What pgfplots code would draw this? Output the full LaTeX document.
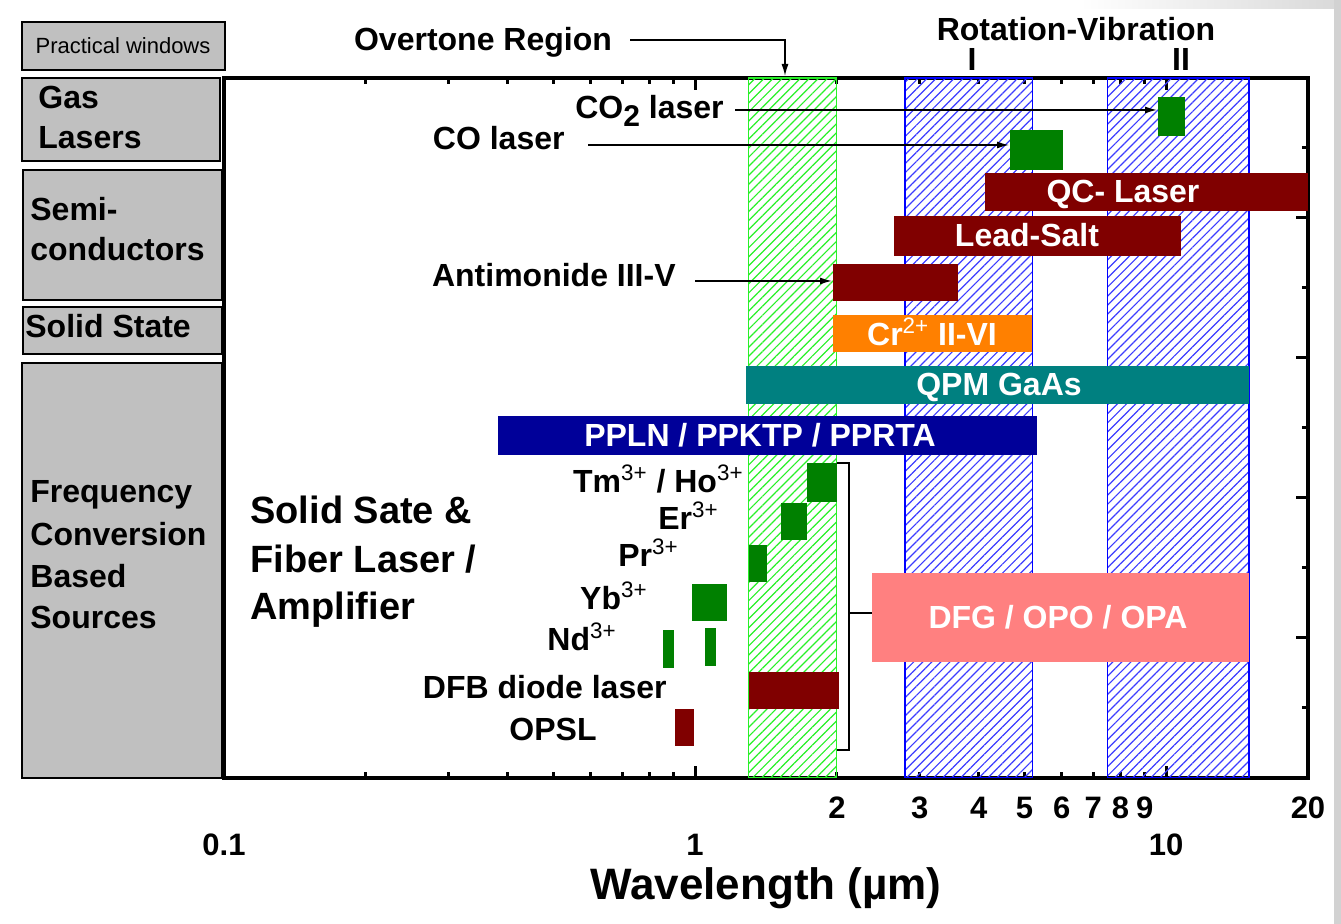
\documentclass[border=0pt]{standalone}
\usepackage{fontspec}
\setmainfont{Liberation Sans}
\usepackage{pgfplots}
\pgfplotsset{compat=1.18}
\usetikzlibrary{patterns.meta,arrows.meta}
\definecolor{dgreen}{RGB}{0,128,0}
\definecolor{dred}{RGB}{128,0,0}
\definecolor{orng}{RGB}{255,128,0}
\definecolor{tealc}{RGB}{0,128,128}
\definecolor{navyc}{RGB}{0,0,153}
\definecolor{pinkc}{RGB}{255,128,128}
\definecolor{boxgray}{RGB}{192,192,192}
\definecolor{hgreen}{RGB}{40,240,40}
\definecolor{hblue}{RGB}{60,60,255}
\newcommand{\fz}[1]{\fontsize{#1}{#1}\selectfont}
\newcommand{\ion}[1]{\textsuperscript{\mdseries #1}}
\begin{document}
\begin{tikzpicture}
\useasboundingbox (-112pt,-73pt) rectangle (558.5pt,389pt);
\begin{axis}[
  at={(0,0)}, anchor=south west,
  scale only axis, width=542pt, height=350pt,
  xmode=log, xmin=0.1, xmax=20, ymin=0, ymax=10,
  axis line style={line width=1.8pt},
  tick style={line width=1.5pt, black},
  major tick length=3pt, minor tick length=3pt,
  xtick={2,3,4,5,6,7,8,9,20},
  xticklabels={2,3,4,5,6,7,8,9,20},
  minor xtick={0.2,0.3,0.4,0.5,0.6,0.7,0.8,0.9},
  extra x ticks={0.1,1,10},
  extra x tick labels={0.1,1,10},
  extra x tick style={major tick length=6pt, xticklabel style={yshift=-18.5pt}},
  xticklabel style={anchor=center, yshift=-15pt, font=\fz{15.5}\bfseries},
  ytick={1,3,5,7,9}, yticklabels={},
  extra y ticks={2,4,6,8}, extra y tick labels={},
  extra y tick style={major tick length=6pt},
  ytick pos=right,
  /pgf/number format/assume math mode=true,
  xlabel={Wavelength (µm)},
  xlabel style={at={(axis description cs:0.5,0)}, anchor=center, yshift=-55pt, font=\fz{22}\bfseries},
]
% spectral windows (hatched)
\addplot[draw=hgreen, line width=0.6pt, pattern={Lines[angle=45,distance=3.2pt,line width=0.6pt]}, pattern color=hgreen]
  coordinates {(1.30,0) (2.00,0) (2.00,10) (1.30,10)} -- cycle;
\addplot[draw=blue, line width=0.8pt, pattern={Lines[angle=45,distance=3.2pt,line width=0.6pt]}, pattern color=hblue]
  coordinates {(2.79,0) (5.20,0) (5.20,10) (2.79,10)} -- cycle;
\addplot[draw=blue, line width=0.8pt, pattern={Lines[angle=45,distance=3.2pt,line width=0.6pt]}, pattern color=hblue]
  coordinates {(7.50,0) (15.0,0) (15.0,10) (7.50,10)} -- cycle;
% gas lasers
\addplot[fill=dgreen, draw=none] coordinates {(9.62,9.17) (10.97,9.17) (10.97,9.73) (9.62,9.73)} -- cycle; % CO2
\addplot[fill=dgreen, draw=none] coordinates {(4.67,8.69) (6.04,8.69) (6.04,9.26) (4.67,9.26)} -- cycle; % CO
% semiconductors
\addplot[fill=dred, draw=none] coordinates {(4.13,8.10) (20,8.10) (20,8.64) (4.13,8.64)} -- cycle; % QC
\addplot[fill=dred, draw=none] coordinates {(2.65,7.46) (10.76,7.46) (10.76,8.03) (2.65,8.03)} -- cycle; % Lead-salt
\addplot[fill=dred, draw=none] coordinates {(1.96,6.81) (3.62,6.81) (3.62,7.34) (1.96,7.34)} -- cycle; % Antimonide
% solid state
\addplot[fill=orng, draw=none] coordinates {(1.96,6.09) (5.20,6.09) (5.20,6.61) (1.96,6.61)} -- cycle; % Cr II-VI
% frequency conversion
\addplot[fill=tealc, draw=none] coordinates {(1.28,5.34) (15.0,5.34) (15.0,5.89) (1.28,5.89)} -- cycle; % QPM GaAs
\addplot[fill=navyc, draw=none] coordinates {(0.382,4.61) (5.32,4.61) (5.32,5.17) (0.382,5.17)} -- cycle; % PPLN
\addplot[fill=dgreen, draw=none] coordinates {(1.73,3.94) (2.00,3.94) (2.00,4.50) (1.73,4.50)} -- cycle; % Tm/Ho
\addplot[fill=dgreen, draw=none] coordinates {(1.52,3.40) (1.73,3.40) (1.73,3.93) (1.52,3.93)} -- cycle; % Er
\addplot[fill=dgreen, draw=none] coordinates {(1.30,2.80) (1.42,2.80) (1.42,3.33) (1.30,3.33)} -- cycle; % Pr
\addplot[fill=dgreen, draw=none] coordinates {(0.985,2.24) (1.17,2.24) (1.17,2.77) (0.985,2.77)} -- cycle; % Yb
\addplot[fill=dgreen, draw=none] coordinates {(0.855,1.57) (0.90,1.57) (0.90,2.11) (0.855,2.11)} -- cycle; % Nd
\addplot[fill=dgreen, draw=none] coordinates {(1.05,1.60) (1.108,1.60) (1.108,2.14) (1.05,2.14)} -- cycle; % Nd
\addplot[fill=dred, draw=none] coordinates {(1.30,0.99) (2.02,0.99) (2.02,1.51) (1.30,1.51)} -- cycle; % DFB
\addplot[fill=dred, draw=none] coordinates {(0.907,0.46) (0.995,0.46) (0.995,0.99) (0.907,0.99)} -- cycle; % OPSL
\addplot[fill=pinkc, draw=none] coordinates {(2.38,1.66) (15.0,1.66) (15.0,2.93) (2.38,2.93)} -- cycle; % DFG/OPO/OPA
\end{axis}
% annotations, in picture pixels
\begin{scope}[x=0.5pt, y=-0.5pt, shift={(-112pt,389pt)}, every node/.style={inner sep=0pt, font=\fz{16}\bfseries}]
  \shade[left color=white, right color=gray!30] (1080,0) rectangle (1341,9);
  \fill[gray!35] (1334,0) rectangle (1341,924);
  % category boxes
  \draw[fill=boxgray, line width=1pt] (22,22) rectangle (225,70);
  \node[font=\fz{11}] at (123,46) {Practical windows};
  \draw[fill=boxgray, line width=1pt] (22,78) rectangle (220,161);
  \node[anchor=base west] at (38,109) {Gas};
  \node[anchor=base west] at (38,149) {Lasers};
  \draw[fill=boxgray, line width=1pt] (23,170) rectangle (222,300);
  \node[anchor=base west] at (30,221) {Semi-};
  \node[anchor=base west] at (30,261) {conductors};
  \draw[fill=boxgray, line width=1pt] (23,307) rectangle (222,354);
  \node[anchor=base west] at (25,338) {Solid State};
  \draw[fill=boxgray, line width=1pt] (22,363) rectangle (222,778);
  \node[anchor=base west] at (30,503) {Frequency};
  \node[anchor=base west] at (30,546) {Conversion};
  \node[anchor=base west] at (30,588) {Based};
  \node[anchor=base west] at (30,629) {Sources};
  % headers
  \node[anchor=base] at (483,51) {Overtone Region};
  \draw[line width=0.7pt, -{Latex[length=6pt,width=3.5pt]}] (630,40) -- (785,40) -- (785,76);
  \node[anchor=base] at (1076,41) {Rotation-Vibration};
  \node[anchor=base] at (972,71) {I};
  \node[anchor=base] at (1181,71) {II};
  % labels with arrows
  \node[anchor=base east] at (724,119) {CO\raisebox{-0.45ex}{\fz{15}2} laser};
  \draw[line width=0.7pt, -{Latex[length=6pt,width=3.5pt]}] (735,110) -- (1157,110);
  \node[anchor=base east] at (565,150) {CO laser};
  \draw[line width=0.7pt, -{Latex[length=6pt,width=3.5pt]}] (588,145) -- (1009,145);
  \node[anchor=base east] at (676,287) {Antimonide III-V};
  \draw[line width=0.7pt, -{Latex[length=6pt,width=3.5pt]}] (695,281) -- (832,281);
  % bar labels
  \node[white, anchor=base] at (1123,203) {QC- Laser};
  \node[white, anchor=base] at (1027,247) {Lead-Salt};
  \node[white, anchor=base] at (932,346) {Cr\ion{2+} II-VI};
  \node[white, anchor=base] at (999,396) {QPM GaAs};
  \node[white, anchor=base] at (760,447) {PPLN / PPKTP / PPRTA};
  \node[white, anchor=base] at (1058,629) {DFG / OPO / OPA};
  % ions
  \node[anchor=base east] at (744,493) {Tm\ion{3+} / Ho\ion{3+}};
  \node[anchor=base east] at (719,530) {Er\ion{3+}};
  \node[anchor=base east] at (679,567) {Pr\ion{3+}};
  \node[anchor=base east] at (648,610) {Yb\ion{3+}};
  \node[anchor=base east] at (617,651) {Nd\ion{3+}};
  \node[anchor=base east] at (667,699) {DFB diode laser};
  \node[anchor=base east] at (597,741) {OPSL};
  \node[anchor=base west, font=\fz{19}\bfseries] at (250,524) {Solid Sate \&};
  \node[anchor=base west, font=\fz{19}\bfseries] at (250,573) {Fiber Laser /};
  \node[anchor=base west, font=\fz{19}\bfseries] at (250,620) {Amplifier};
  % bracket
  \draw[line width=0.8pt] (837,463) -- (849,463) -- (849,750) -- (837,750);
  \draw[line width=0.8pt] (849,613) -- (872,613);
\end{scope}
\end{tikzpicture}
\end{document}
